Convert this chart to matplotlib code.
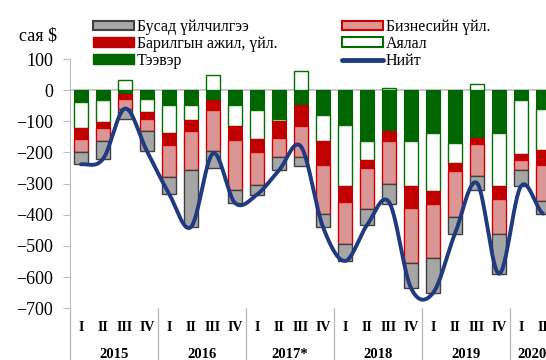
import numpy as np
import matplotlib.pyplot as plt
from matplotlib.patches import Patch
from matplotlib.lines import Line2D
import matplotlib.transforms as mtransforms

plt.rcParams['font.family'] = 'Liberation Serif'

quarters = ['I', 'II', 'III', 'IV'] * 5 + ['I', 'II']
years = ['2015', '2016', '2017*', '2018', '2019', '2020']

# сая $, quarterly
transport = [-37, -32, -11, -27, -48, -48, -30, -48, -64, -91, -48, -80,
             -112, -163, -132, -163, -137, -168, -153, -136, -32, -59]
travel = [-86, -70, 32, -43, -89, -48, 48, -68, -94, -9, 62, -83,
          -196, -62, 7, -145, -186, -67, 21, -172, -173, -134]
construction = [-34, -19, -18, -24, -40, -35, -34, -45, -40, -52, -68, -78,
                -50, -24, -31, -70, -41, -25, -20, -40, -20, -46]
business = [-43, -43, -33, -38, -101, -126, -131, -158, -107, -64, -100, -157,
            -137, -133, -137, -178, -173, -147, -102, -115, -32, -116]
other = [-38, -57, -29, -64, -54, -182, -56, -43, -30, -41, -27, -41,
         -53, -51, -66, -79, -114, -53, -44, -126, -51, -41]

transport = np.array(transport)
travel = np.array(travel)
construction = np.array(construction)
business = np.array(business)
other = np.array(other)
total = transport + travel + construction + business + other

x = np.arange(len(quarters))
w = 0.65

fig = plt.figure(figsize=(5.46, 3.6), dpi=100)
ax = fig.add_axes([70 / 546, 1 - 308.3 / 360, 484 / 546, 249.3 / 360])

# stacking (negatives go down from 0, positive travel goes up)
base = transport.copy()
ax.bar(x, transport, w, color='#006600', edgecolor='#006600', lw=0.8, zorder=2)
trav_bottom = np.where(travel < 0, base, 0)
ax.bar(x, travel, w, bottom=trav_bottom, color='white', edgecolor='#007000', lw=1, zorder=2)
base = base + np.minimum(travel, 0)
ax.bar(x, construction, w, bottom=base, color='#C00000', edgecolor='#C00000', lw=0.8, zorder=2)
base = base + construction
ax.bar(x, business, w, bottom=base, color='#DA9694', edgecolor='#D00000', lw=1, zorder=2)
base = base + business
ax.bar(x, other, w, bottom=base, color='#A6A6A6', edgecolor='#404040', lw=1, zorder=2)

# smoothed total line (catmull-rom like excel)
pts = np.r_[total[0], total, total[-1]]
xs, ys = [], []
for i in range(len(total) - 1):
    p0, p1, p2, p3 = pts[i], pts[i + 1], pts[i + 2], pts[i + 3]
    t = np.linspace(0, 1, 30)
    m1 = (p2 - p0) / 2
    m2 = (p3 - p1) / 2
    h00 = 2 * t**3 - 3 * t**2 + 1
    h10 = t**3 - 2 * t**2 + t
    h01 = -2 * t**3 + 3 * t**2
    h11 = t**3 - t**2
    xs.append(i + t)
    ys.append(h00 * p1 + h10 * m1 + h01 * p2 + h11 * m2)
ax.plot(np.concatenate(xs), np.concatenate(ys), color='#1F3A80', lw=2.8,
        solid_capstyle='round', zorder=3)

ax.axhline(0, color='#BFBFBF', lw=1.2, zorder=1)
ax.set_xlim(-0.5, 21.5)
ax.set_ylim(-700, 100)
ax.set_yticks(range(-700, 101, 100))
ax.tick_params(axis='y', direction='out', length=5, color='#BFBFBF', labelsize=13, pad=7)
ax.set_xticks(x)
ax.set_xticklabels(quarters, fontsize=10, fontweight='bold')
ax.tick_params(axis='x', length=0, pad=9)
for s in ['top', 'right', 'bottom']:
    ax.spines[s].set_visible(False)
ax.spines['left'].set_color('#BFBFBF')

trans = mtransforms.blended_transform_factory(ax.transData, ax.transAxes)
ax.plot([-0.5, -0.5], [0, -0.3], color='#BFBFBF', lw=1, transform=trans, clip_on=False)
for b in [3.5, 7.5, 11.5, 15.5, 19.5]:
    ax.plot([b, b], [0, -0.3], color='#BFBFBF', lw=1, transform=trans, clip_on=False)
for i, yr in enumerate(years):
    cx = 4 * i + 1.5 if i < 5 else 20.5
    ax.text(cx, -0.185, yr, transform=trans, ha='center', va='center',
            fontsize=10.5, fontweight='bold')

fig.text(38 / 546, 1 - 36 / 360, 'сая $', ha='center', va='center', fontsize=13)

handles = [
    Patch(facecolor='#A6A6A6', edgecolor='#404040', lw=1.5),
    Patch(facecolor='#C00000', edgecolor='#C00000'),
    Patch(facecolor='#006600', edgecolor='#006600'),
    Patch(facecolor='#DA9694', edgecolor='#D00000', lw=1.5),
    Patch(facecolor='white', edgecolor='#007000', lw=1.5),
    Line2D([0], [0], color='#1F3A80', lw=3.5, solid_capstyle='round'),
]
labels = ['Бусад үйлчилгээ', 'Барилгын ажил, үйл.', 'Тээвэр',
          'Бизнесийн үйл.', 'Аялал', 'Нийт']
fig.legend(handles, labels, ncol=2, loc='upper left', bbox_to_anchor=(93 / 546, 1 - 19 / 360),
           frameon=False, fontsize=11.5, handlelength=2.55, handleheight=0.55,
           handletextpad=0.2, labelspacing=0.06, columnspacing=4.05,
           borderpad=0, borderaxespad=0)

plt.savefig('out.png', dpi=100)
